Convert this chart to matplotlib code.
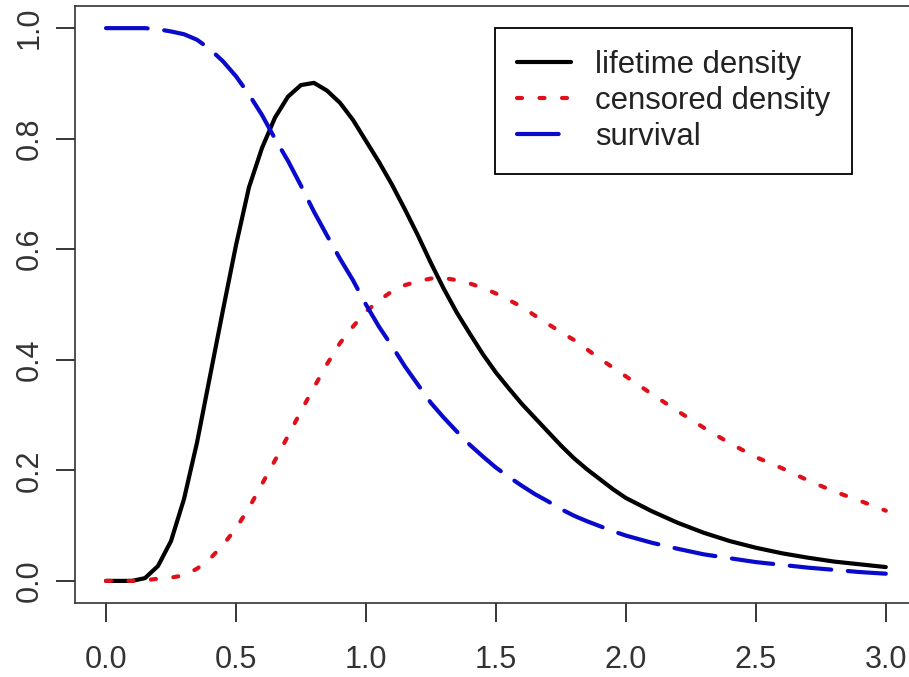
import numpy as np
from matplotlib import pyplot as plt

# values
t = [0.0, 0.05, 0.1, 0.15, 0.2, 0.25, 0.3, 0.35, 0.4, 0.45, 0.5, 0.55, 0.6,
     0.65, 0.7, 0.75, 0.8, 0.85, 0.9, 0.95, 1.0, 1.05, 1.1, 1.15, 1.2, 1.25,
     1.3, 1.35, 1.4, 1.45, 1.5, 1.55, 1.6, 1.65, 1.7, 1.75, 1.8, 1.85, 1.9,
     1.95, 2.0, 2.1, 2.2, 2.3, 2.4, 2.5, 2.6, 2.7, 2.8, 2.9, 3.0]

lifetime_density = [0.0, 0.0, 0.0, 0.005, 0.027, 0.072, 0.148, 0.25, 0.37,
                    0.49, 0.607, 0.712, 0.783, 0.838, 0.876, 0.897, 0.901,
                    0.887, 0.865, 0.834, 0.796, 0.758, 0.717, 0.672, 0.625,
                    0.575, 0.528, 0.485, 0.447, 0.41, 0.377, 0.348, 0.32,
                    0.295, 0.27, 0.245, 0.222, 0.202, 0.184, 0.166, 0.15,
                    0.126, 0.105, 0.087, 0.072, 0.06, 0.05, 0.042, 0.035,
                    0.03, 0.025]

censored_density = [0.0, 0.0, 0.0, 0.001, 0.004, 0.006, 0.01, 0.022, 0.04,
                    0.065, 0.095, 0.132, 0.175, 0.218, 0.262, 0.307, 0.35,
                    0.392, 0.43, 0.46, 0.487, 0.507, 0.524, 0.535, 0.542,
                    0.547, 0.548, 0.544, 0.538, 0.53, 0.52, 0.508, 0.496,
                    0.48, 0.465, 0.45, 0.436, 0.419, 0.402, 0.386, 0.37,
                    0.338, 0.307, 0.277, 0.249, 0.224, 0.204, 0.182, 0.162,
                    0.145, 0.127]

survival = [1.0, 1.0, 1.0, 1.0, 0.998, 0.994, 0.989, 0.979, 0.962, 0.94,
            0.913, 0.88, 0.843, 0.80, 0.76, 0.715, 0.668, 0.625, 0.583,
            0.544, 0.50, 0.46, 0.425, 0.388, 0.355, 0.322, 0.295, 0.27,
            0.246, 0.225, 0.205, 0.188, 0.172, 0.157, 0.144, 0.13, 0.118,
            0.108, 0.099, 0.09, 0.082, 0.069, 0.058, 0.048, 0.041, 0.034,
            0.029, 0.024, 0.02, 0.016, 0.013]

x_ticks = [0.0, 0.5, 1.0, 1.5, 2.0, 2.5, 3.0]
y_ticks = [0.0, 0.2, 0.4, 0.6, 0.8, 1.0]
labels = ["lifetime density", "censored density", "survival"]

plt.rcParams["font.family"] = ["Liberation Sans", "DejaVu Sans"]

fig = plt.figure(figsize=(9.09, 6.77), dpi=100)
ax = fig.add_axes([0.0823, 0.1093, 0.9265, 0.8818])

lw = 3.0
ax.plot(t, lifetime_density, color="black", lw=lw, solid_capstyle="round",
        solid_joinstyle="round", label=labels[0])
ax.plot(t, censored_density, color="#e0101a", lw=lw, dashes=(1.2, 4.2),
        dash_capstyle="round", label=labels[1])
ax.plot(t, survival, color="#0a0acc", lw=lw, dashes=(10, 4),
        dash_capstyle="round", label=labels[2])

ax.set_xlim(-0.12, 3.12)
ax.set_ylim(-0.04, 1.04)
ax.set_xticks(x_ticks)
ax.set_xticklabels([f"{v:.1f}" for v in x_ticks])
ax.set_yticks(y_ticks)
ax.set_yticklabels([f"{v:.1f}" for v in y_ticks], rotation=90, va="center")

ax.tick_params(axis="both", direction="out", length=13.5, width=1.1,
               labelsize=22, colors="black", labelcolor="#333333")
ax.tick_params(axis="x", pad=17)
ax.tick_params(axis="y", pad=8)
for s in ax.spines.values():
    s.set_linewidth(1.2)
    s.set_color("#333333")

leg = ax.legend(loc="upper left", bbox_to_anchor=(495 / 909, 1 - 28 / 677),
                bbox_transform=fig.transFigure, borderaxespad=0,
                fontsize=22.4, frameon=True, fancybox=False, framealpha=1,
                edgecolor="black", borderpad=0.7, labelspacing=0.2,
                handlelength=1.75, handletextpad=0.77)
leg.get_frame().set_linewidth(1.3)
for txt in leg.get_texts():
    txt.set_color("#222222")

fig.savefig("out.png", dpi=100)
